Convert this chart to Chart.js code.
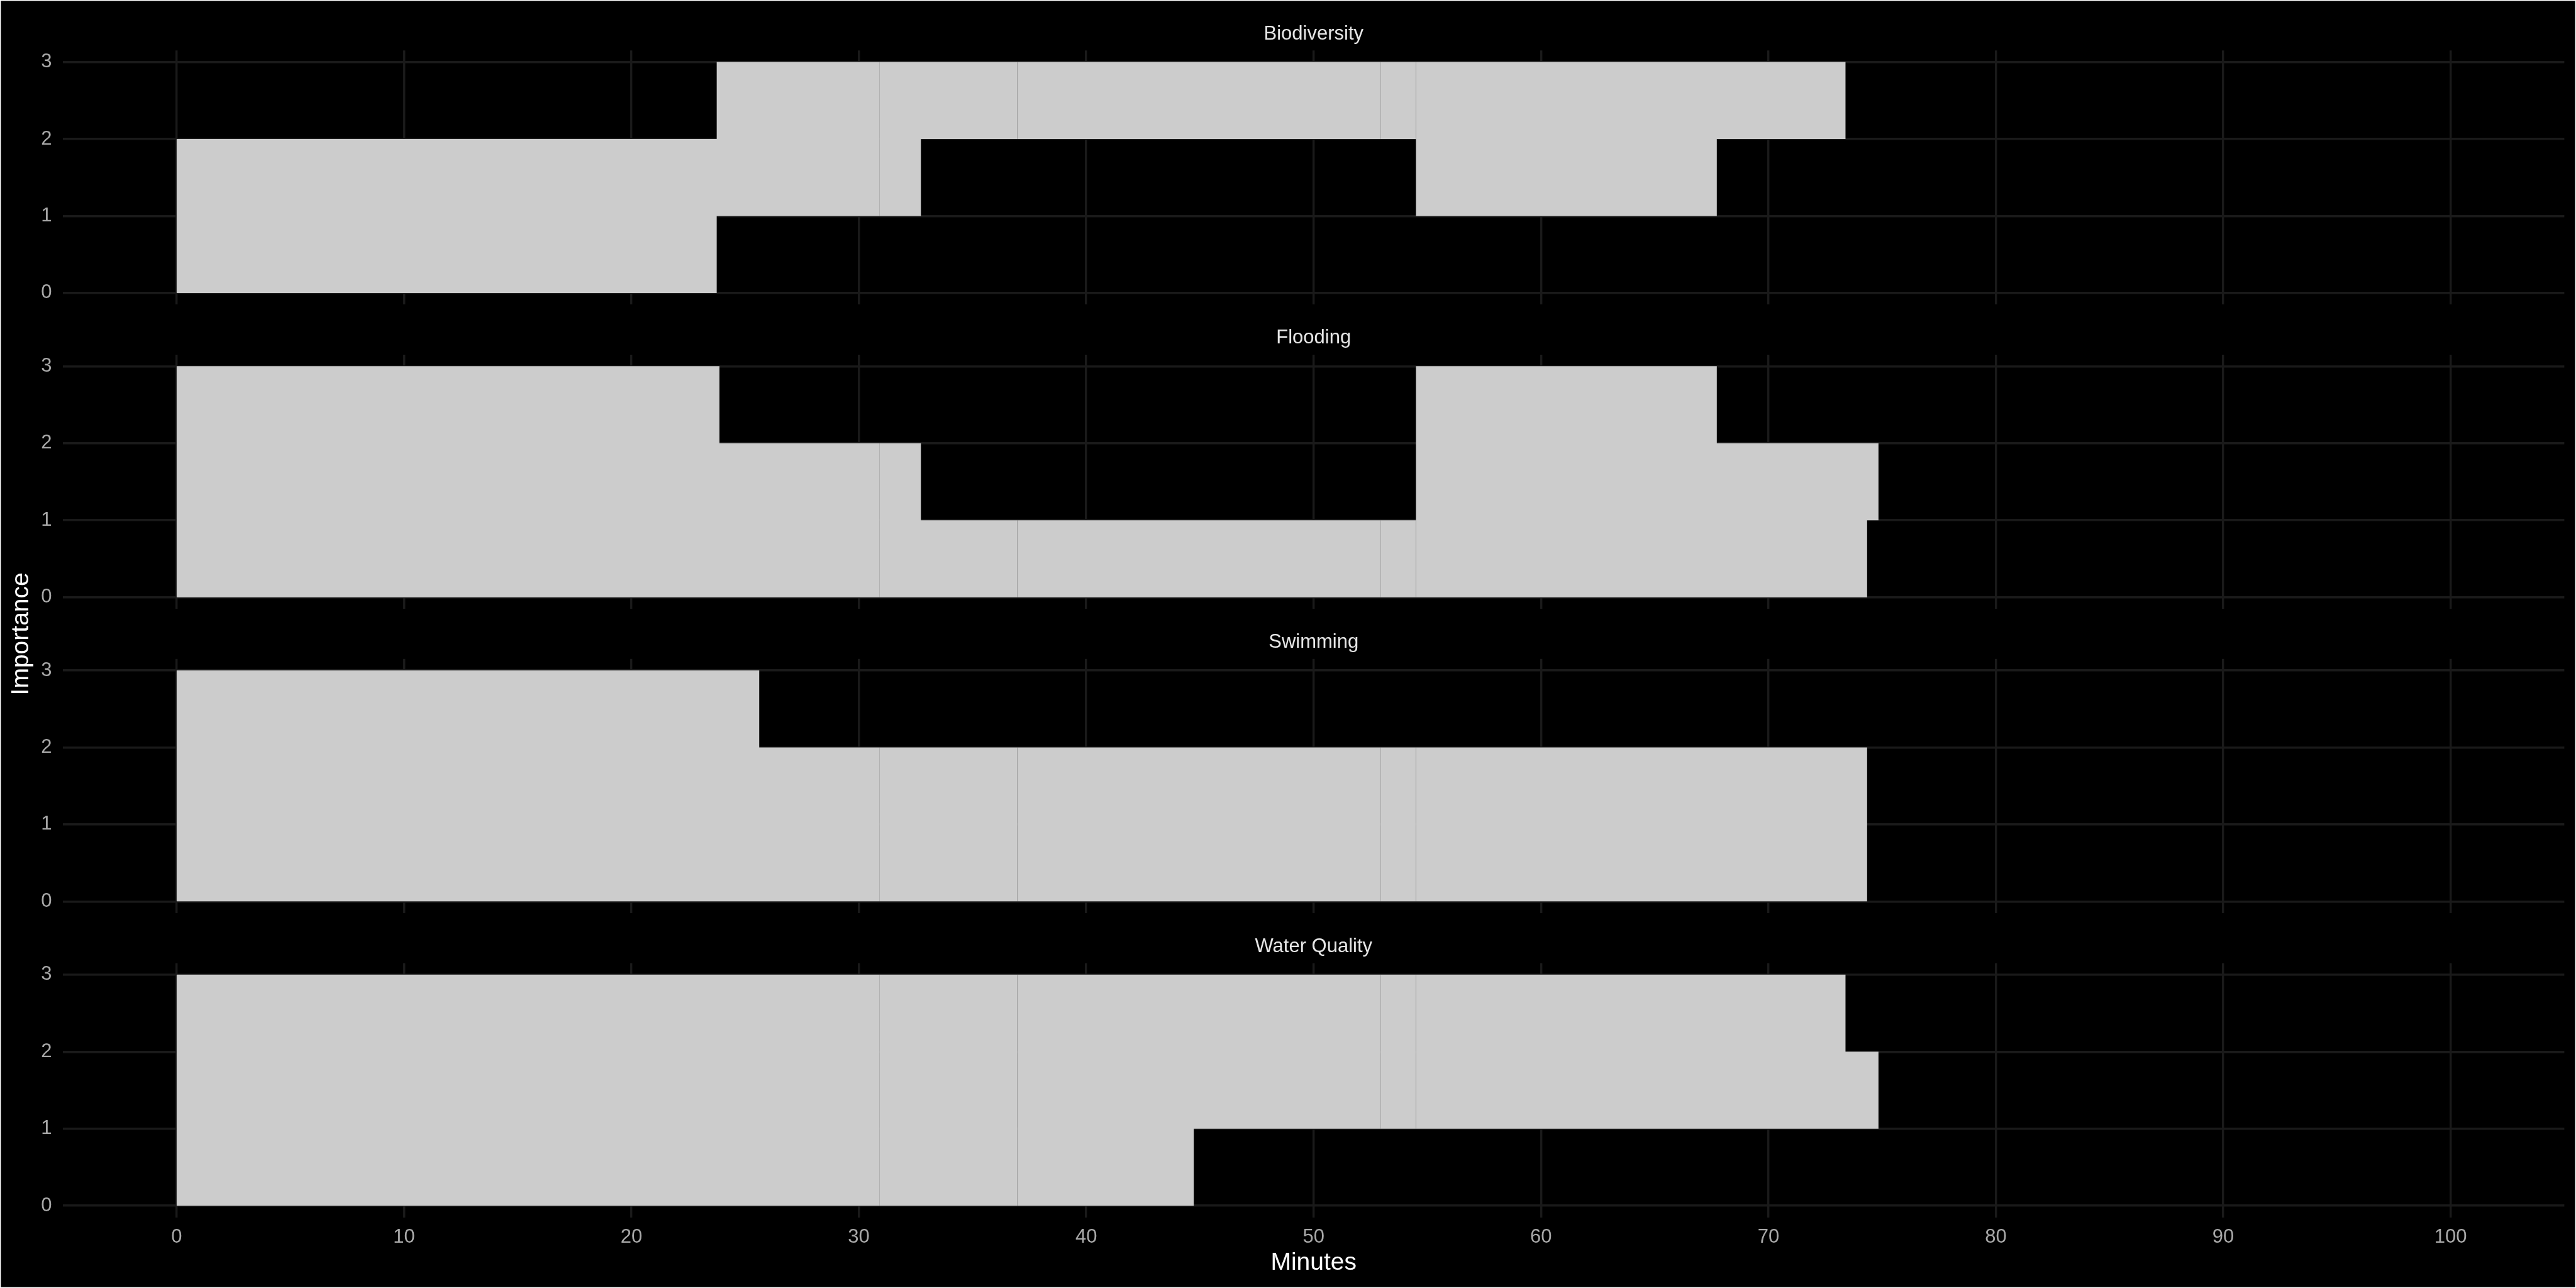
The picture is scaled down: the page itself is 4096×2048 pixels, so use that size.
<!DOCTYPE html>
<html>
<head>
<meta charset="utf-8">
<script src="https://cdn.jsdelivr.net/npm/chart.js@4.4.1/dist/chart.umd.min.js"></script>
<style>
html, body { margin: 0; padding: 0; background: #ffffff; width: 4096px; height: 2048px; overflow: hidden; }
#frame { position: absolute; left: 1px; top: 1px; width: 4094px; height: 2046px; box-sizing: border-box; border: 1.5px solid #5e5e5e; background: #000000; }
canvas { position: absolute; left: 0; top: 0; }
</style>
</head>
<body>
<div id="frame"></div>
<canvas id="c0" width="4096" height="2048"></canvas>
<canvas id="c1" width="4096" height="2048"></canvas>
<canvas id="c2" width="4096" height="2048"></canvas>
<canvas id="c3" width="4096" height="2048"></canvas>
<script>
// ---------------- DATA ----------------
const facetNames = ["Biodiversity", "Flooding", "Swimming", "Water Quality"];
const xTickValues = [0, 10, 20, 30, 40, 50, 60, 70, 80, 90, 100];
const yTickValues = [0, 1, 2, 3];
const xTitle = "Minutes";
const yTitle = "Importance";

// session boundaries (minutes) shared by all topics
const sessionBreaks = [30.9, 36.97, 52.96, 54.5];

// Biodiversity: interval edges, and lowest / highest importance in each interval
const bioTimes = [0, 23.75, 32.73, 54.5, 67.73, 73.39];
const bioLow   = [0, 1, 2, 1, 2];
const bioHigh  = [2, 3, 3, 3, 3];

// Flooding
const floTimes = [0, 23.87, 32.73, 54.5, 67.73, 74.34, 74.84];
const floLow   = [0, 0, 0, 0, 0, 1];
const floHigh  = [3, 2, 1, 3, 2, 2];

// Swimming
const swiTimes = [0, 25.62, 74.34];
const swiLow   = [0, 0];
const swiHigh  = [3, 2];

// Water Quality
const wqTimes = [0, 44.73, 73.39, 74.84];
const wqLow   = [0, 1, 1];
const wqHigh  = [3, 3, 2];

const facetTimes = [bioTimes, floTimes, swiTimes, wqTimes];
const facetLows  = [bioLow, floLow, swiLow, wqLow];
const facetHighs = [bioHigh, floHigh, swiHigh, wqHigh];

// ---------------- STYLE / LAYOUT ----------------
const FONT = '"Liberation Sans", Arial, Helvetica, sans-serif';
const FILL = '#cccccc';
const GRID = '#1a1a1a';
const TICK_COLOR = '#a8a8a8';
const STRIP_COLOR = '#e6e6e6';
const TITLE_COLOR = '#ffffff';
const W = 4096, H = 2048;
const panelLeft = 100.1, panelRight = 4077.4;
const panelTops = [80.2, 563.9, 1047.7, 1531.4];
const panelBottoms = [484.3, 968.0, 1451.7, 1935.5];
const yAxisWidth = 60;
const xAxisHeight = 100;

// Build one closed outline per session from the step data
function buildShapes(times, lows, highs) {
  const start = times[0], end = times[times.length - 1];
  const bounds = [start].concat(sessionBreaks.filter(b => b > start && b < end), [end]);
  const shapes = [];
  for (let s = 0; s < bounds.length - 1; s++) {
    const a = bounds[s], b = bounds[s + 1];
    const parts = [];
    for (let i = 0; i < times.length - 1; i++) {
      const s0 = Math.max(times[i], a), e0 = Math.min(times[i + 1], b);
      if (e0 > s0) parts.push({ s: s0, e: e0, lo: lows[i], hi: highs[i] });
    }
    if (!parts.length) continue;
    const pts = [];
    parts.forEach(p => { pts.push({ x: p.s, y: p.hi }); pts.push({ x: p.e, y: p.hi }); });
    parts.slice().reverse().forEach(p => { pts.push({ x: p.e, y: p.lo }); pts.push({ x: p.s, y: p.lo }); });
    shapes.push(pts);
  }
  return shapes;
}

const stripPlugin = {
  id: 'strip',
  afterDraw(chart, args, opts) {
    const { ctx, chartArea: ca } = chart;
    ctx.save();
    ctx.fillStyle = STRIP_COLOR;
    ctx.font = '31px ' + FONT;
    ctx.textAlign = 'center';
    ctx.textBaseline = 'middle';
    ctx.fillText(opts.label, (ca.left + ca.right) / 2, ca.top - 26);
    if (opts.yTitle) {
      ctx.fillStyle = TITLE_COLOR;
      ctx.font = '39px ' + FONT;
      ctx.translate(34, (panelTops[0] + panelBottoms[3]) / 2);
      ctx.rotate(-Math.PI / 2);
      ctx.fillText(opts.yTitle, 0, 0);
    }
    ctx.restore();
  }
};

facetNames.forEach((name, k) => {
  const isBottom = k === facetNames.length - 1;
  const shapes = buildShapes(facetTimes[k], facetLows[k], facetHighs[k]);
  const datasets = shapes.map(pts => ({
    data: pts,
    fill: 'shape',
    backgroundColor: FILL,
    borderColor: 'rgba(0,0,0,0)',
    borderWidth: 0,
    pointRadius: 0,
    pointHoverRadius: 0,
    tension: 0,
    showLine: true
  }));
  new Chart(document.getElementById('c' + k), {
    type: 'line',
    data: { datasets },
    options: {
      responsive: false,
      animation: false,
      devicePixelRatio: 1,
      events: [],
      layout: {
        autoPadding: false,
        padding: {
          left: panelLeft - yAxisWidth,
          right: W - panelRight,
          top: panelTops[k],
          bottom: isBottom ? (H - panelBottoms[k] - xAxisHeight) : (H - panelBottoms[k])
        }
      },
      plugins: {
        legend: { display: false },
        tooltip: { enabled: false },
        title: { display: false },
        strip: { label: name, yTitle: k === 0 ? yTitle : null }
      },
      scales: {
        x: {
          type: 'linear',
          min: -5,
          max: 105,
          afterBuildTicks: s => { s.ticks = xTickValues.map(v => ({ value: v })); },
          afterFit: s => { s.height = isBottom ? xAxisHeight : 0; },
          grid: { color: GRID, lineWidth: 3.4, drawTicks: false },
          border: { display: false },
          ticks: {
            display: isBottom,
            color: TICK_COLOR,
            font: { family: FONT, size: 31 },
            padding: 13.5,
            maxRotation: 0,
            autoSkip: false
          },
          title: {
            display: isBottom,
            text: xTitle,
            color: TITLE_COLOR,
            font: { family: FONT, size: 39 },
            padding: { top: 0, bottom: 3.8 }
          }
        },
        y: {
          type: 'linear',
          min: -0.15,
          max: 3.15,
          afterBuildTicks: s => { s.ticks = yTickValues.map(v => ({ value: v })); },
          afterFit: s => { s.width = yAxisWidth; },
          grid: { color: GRID, lineWidth: 3.4, drawTicks: false },
          border: { display: false },
          ticks: {
            color: TICK_COLOR,
            font: { family: FONT, size: 31 },
            padding: 17.7
          }
        }
      }
    },
    plugins: [stripPlugin]
  });
});
</script>
</body>
</html>
